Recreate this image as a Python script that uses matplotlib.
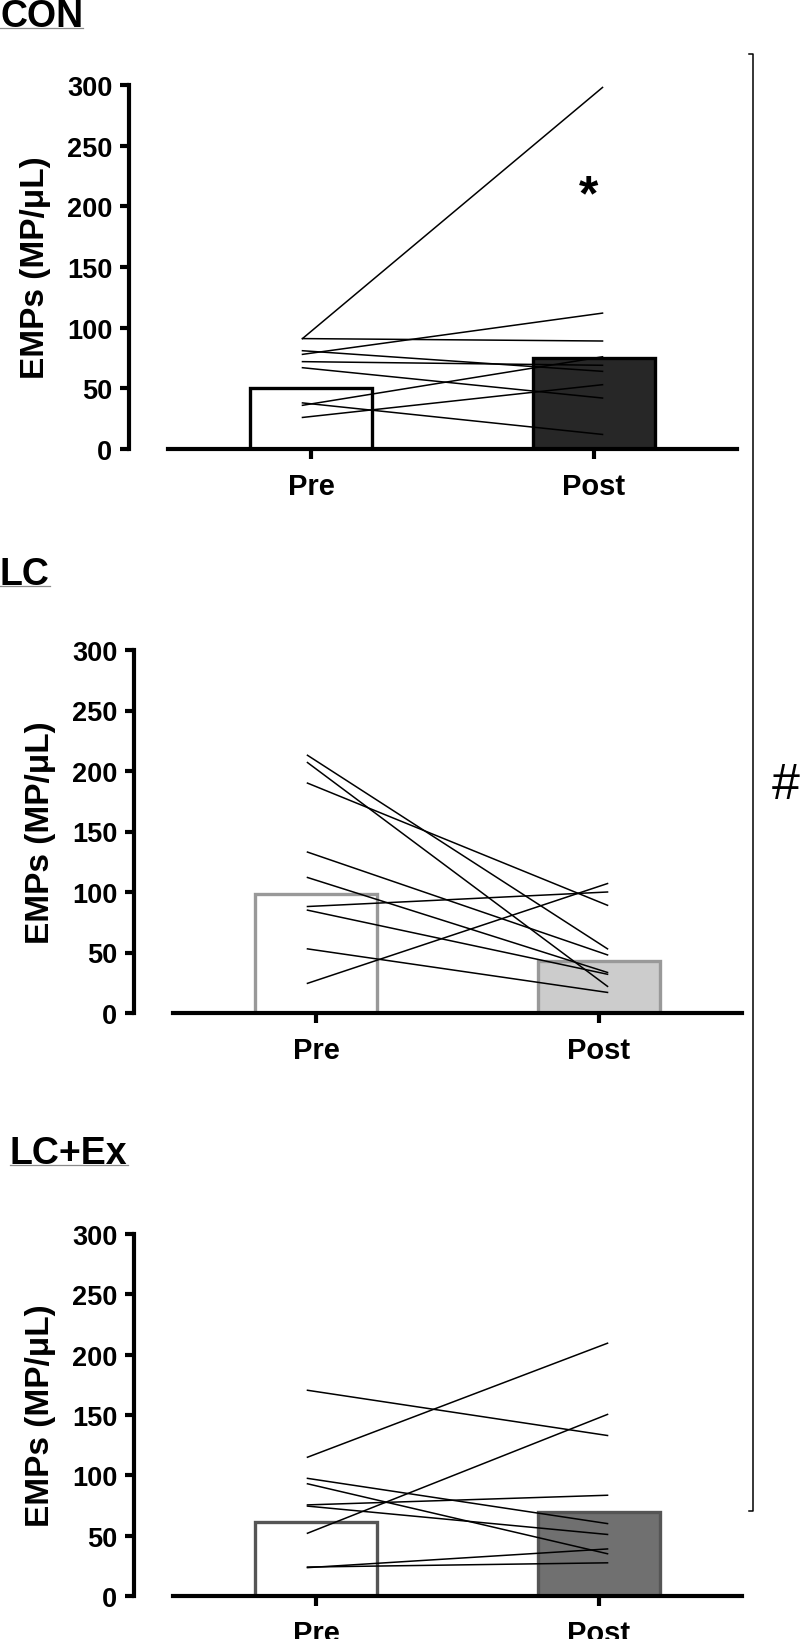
import matplotlib.pyplot as plt
from matplotlib.lines import Line2D

plt.rcParams['font.family'] = ['Liberation Sans', 'DejaVu Sans']
plt.rcParams['font.weight'] = 'bold'

W, H = 800, 1640

groups = ["CON", "LC", "LC+Ex"]
timepoints = ["Pre", "Post"]
y_ticks = [0, 50, 100, 150, 200, 250, 300]

# individual subjects, pre -> post
con_pre = [91, 91, 78, 81, 72, 67, 36, 38, 26]
con_post = [298, 89, 112, 64, 69, 42, 76, 12, 53]
con_bar = [50, 75]

lc_pre = [24.5, 88, 53, 190, 213, 207, 133, 112, 85]
lc_post = [107, 100, 17, 89, 53, 22, 48, 33.5, 32]
lc_bar = [98, 43]

lcex_pre = [170.5, 115, 97.5, 93, 75.5, 74.5, 52, 23.5, 24]
lcex_post = [133, 209.5, 60, 35, 83.5, 51, 150.5, 39, 27.5]
lcex_bar = [61, 69.5]

panels = [
    dict(pre=con_pre, post=con_post, bars=con_bar,
         face=["white", "#272727"], edge=["black", "black"],
         box=(168, 737, 86, 450), title_x=0, title_base=27),
    dict(pre=lc_pre, post=lc_post, bars=lc_bar,
         face=["white", "#cccccc"], edge=["#999999", "#999999"],
         box=(173, 742, 651, 1014), title_x=0, title_base=585),
    dict(pre=lcex_pre, post=lcex_post, bars=lcex_bar,
         face=["white", "#707070"], edge=["#555555", "#555555"],
         box=(173, 742, 1235, 1597), title_x=10, title_base=1164),
]

fig = plt.figure(figsize=(W / 100, H / 100), dpi=100)

axes = []
for name, p in zip(groups, panels):
    x0, x1, yt, yb = p["box"]
    ax = fig.add_axes([x0 / W, 1 - yb / H, (x1 - x0) / W, (yb - yt) / H])
    axes.append(ax)

    ax.bar([0, 1], p["bars"], width=0.43, color=p["face"], edgecolor=p["edge"],
           linewidth=2.4, zorder=1)
    for a, b in zip(p["pre"], p["post"]):
        ax.plot([-0.03, 1.03], [a, b], color="black", lw=1.1, zorder=3, clip_on=False)

    ax.set_xlim(-0.505, 1.505)
    ax.set_ylim(0, 300)
    ax.set_yticks(y_ticks)
    ax.set_xticks([0, 1])
    ax.set_xticklabels(timepoints)
    for s in ["top", "right"]:
        ax.spines[s].set_visible(False)
    ax.spines["left"].set_position(("outward", 28))
    ax.spines["left"].set_linewidth(3)
    ax.spines["bottom"].set_linewidth(3)
    ax.tick_params(axis="y", length=6.5, width=3, labelsize=19.5, pad=5.5)
    ax.tick_params(axis="x", length=7.5, width=3, labelsize=21, pad=9)
    ax.set_ylabel("EMPs (MP/μL)", fontsize=24, fontweight="bold")
    ax.yaxis.set_label_coords(-0.2056, 0.5)

    t = fig.text(p["title_x"] / W, 1 - p["title_base"] / H, name, fontsize=27,
                 fontweight="bold", ha="left", va="baseline")
    p["title_artist"] = t

axes[0].text(0.98, 208, "*", ha="center", va="center", fontsize=36, fontweight="bold")

# underline the group titles
fig.canvas.draw()
renderer = fig.canvas.get_renderer()
for p in panels:
    bb = p["title_artist"].get_window_extent(renderer)
    yline = 1 - (p["title_base"] + 2) / H
    fig.add_artist(Line2D([bb.x0 / W, bb.x1 / W], [yline, yline],
                          color="#8a8a8a", lw=0.9))

# bracket on the right with the # marker
bx, btop, bbot = 753, 55, 1512
fig.add_artist(Line2D([749 / W, bx / W, bx / W, 749 / W],
                      [1 - btop / H, 1 - btop / H, 1 - bbot / H, 1 - bbot / H],
                      color="black", lw=1.1))
fig.text(786 / W, 1 - 786 / H, "#", fontsize=36, fontweight="normal",
         ha="center", va="center")

fig.savefig("out.png", dpi=100)
